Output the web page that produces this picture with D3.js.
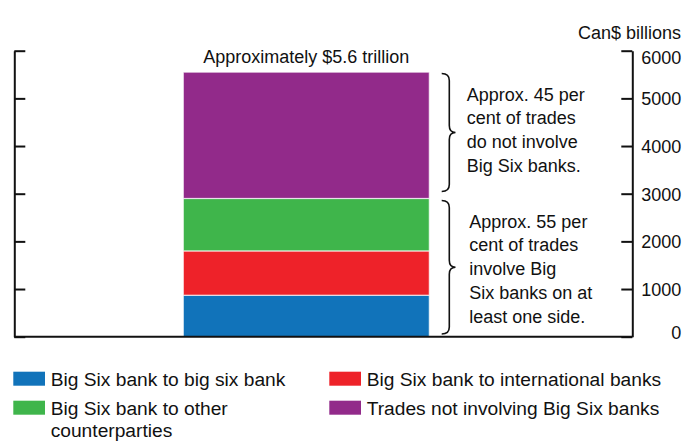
<!DOCTYPE html>
<html>
<head>
<meta charset="utf-8">
<script src="https://cdn.jsdelivr.net/npm/d3@7"></script>
<style>
  body { margin: 0; background: #fff; }
  svg text { font-family: "Liberation Sans", Arial, sans-serif; fill: #111; }
</style>
</head>
<body>
<div id="chart"></div>
<script>
// Stacked single bar: foreign exchange trades, Can$ billions
const category = "Total";
const seriesNames = [
    "Big Six bank to big six bank",
    "Big Six bank to international banks",
    "Big Six bank to other counterparties",
    "Trades not involving Big Six banks"
];
const seriesValues = [870, 930, 1100, 2650];
const seriesColors = ["#1173ba", "#ee2229", "#3fb54b", "#922a8a"];
const yTicks = [0, 1000, 2000, 3000, 4000, 5000, 6000];
const unitLabel = "Can$ billions";
const totalLabel = "Approximately $5.6 trillion";
const upperNote = ["Approx. 45 per", "cent of trades", "do not involve", "Big Six banks."];
const lowerNote = ["Approx. 55 per", "cent of trades", "involve Big", "Six banks on at", "least one side."];

const width = 684, height = 441;
const plot = {left: 14.3, right: 632.3, top: 50.7, bottom: 336.7};

const svg = d3.select("#chart").append("svg")
    .attr("width", width)
    .attr("height", height);

const y = d3.scaleLinear()
    .domain([0, 6000])
    .range([plot.bottom, plot.top]);

const x = d3.scaleBand()
    .domain([category])
    .range([183.3, 429.3])
    .padding(0);

// stack the segments
const stackData = [Object.fromEntries(seriesNames.map((n, i) => [n, seriesValues[i]]))];
const stacked = d3.stack().keys(seriesNames)(stackData);

svg.append("g")
    .selectAll("rect")
    .data(stacked)
    .join("rect")
    .attr("x", x(category))
    .attr("width", x.bandwidth())
    .attr("y", d => y(d[0][1]))
    .attr("height", d => y(d[0][0]) - y(d[0][1]))
    .attr("fill", (d, i) => seriesColors[i])
    .attr("stroke", "#ffffff")
    .attr("stroke-opacity", 0.7)
    .attr("stroke-width", 1.2);

// left axis (ticks only, pointing inward)
const leftAxis = svg.append("g")
    .attr("transform", `translate(${plot.left},0)`)
    .call(d3.axisLeft(y).tickValues(yTicks).tickSizeInner(-11).tickSizeOuter(0).tickFormat(""));
leftAxis.selectAll("line").attr("stroke", "#111").attr("stroke-width", 2);
leftAxis.select(".domain").attr("stroke", "#111").attr("stroke-width", 2);

// right axis with labels
const rightAxis = svg.append("g")
    .attr("transform", `translate(${plot.right},0)`)
    .call(d3.axisRight(y).tickValues(yTicks).tickSizeInner(-11).tickSizeOuter(0).tickFormat(d3.format("d")));
rightAxis.selectAll("line").attr("stroke", "#111").attr("stroke-width", 2);
rightAxis.select(".domain").attr("stroke", "#111").attr("stroke-width", 2);
rightAxis.selectAll("text")
    .attr("x", 49)
    .attr("text-anchor", "end")
    .attr("dy", d => d === 6000 ? "0.7em" : d === 0 ? "0.1em" : "0.36em")
    .style("font-size", "18px")
    .style("font-family", "'Liberation Sans', Arial, sans-serif")
    .attr("fill", "#111");

// baseline
svg.append("line")
    .attr("x1", plot.left)
    .attr("x2", plot.right)
    .attr("y1", y(0))
    .attr("y2", y(0))
    .attr("stroke", "#111")
    .attr("stroke-width", 2);

svg.append("text")
    .attr("x", 681)
    .attr("y", 39)
    .attr("text-anchor", "end")
    .style("font-size", "18px")
    .text(unitLabel);

const total = d3.sum(seriesValues);
svg.append("text")
    .attr("x", x(category) + x.bandwidth() / 2)
    .attr("y", y(total) - 9.5)
    .attr("text-anchor", "middle")
    .style("font-size", "18px")
    .text(totalLabel);

// curly braces
function brace(top, bottom) {
    const x0 = 441.7, xm = 449.3, xt = 455.5, r = 7;
    const mid = (top + bottom) / 2;
    return `M${x0},${top} Q${xm},${top} ${xm},${top + r} L${xm},${mid - r} ` +
        `Q${xm},${mid} ${xt},${mid} Q${xm},${mid} ${xm},${mid + r} ` +
        `L${xm},${bottom - r} Q${xm},${bottom} ${x0},${bottom}`;
}
const big6Total = d3.sum(seriesValues.slice(0, 3));
svg.append("path")
    .attr("d", brace(y(total) + 1.3, y(big6Total) - 7))
    .attr("fill", "none").attr("stroke", "#111").attr("stroke-width", 1.6);
svg.append("path")
    .attr("d", brace(y(big6Total) + 2, y(0) - 2.7))
    .attr("fill", "none").attr("stroke", "#111").attr("stroke-width", 1.6);

function note(lines, x0, y0) {
    svg.append("g").selectAll("text")
        .data(lines)
        .join("text")
        .attr("x", x0)
        .attr("y", (d, i) => y0 + i * 23.8)
        .style("font-size", "18px")
        .text(d => d);
}
note(upperNote, 466.7, 100.6);
note(lowerNote, 469.3, 227.6);

// legend
const legendPos = [
    {x: 13.3, y: 386, lines: ["Big Six bank to big six bank"]},
    {x: 329.3, y: 386, lines: ["Big Six bank to international banks"]},
    {x: 13.3, y: 415, lines: ["Big Six bank to other", "counterparties"]},
    {x: 329.3, y: 415, lines: ["Trades not involving Big Six banks"]}
];
const legendOrder = [0, 1, 2, 3];
const legend = svg.append("g");
legendOrder.forEach((si, i) => {
    const p = legendPos[i];
    legend.append("rect")
        .attr("x", p.x)
        .attr("y", p.y - 14.3)
        .attr("width", 31.7)
        .attr("height", 14)
        .attr("fill", seriesColors[si]);
    const t = legend.append("text")
        .attr("x", p.x + 37.4)
        .attr("y", p.y)
        .style("font-size", "19.2px");
    const parts = si === 2 ? ["Big Six bank to other", "counterparties"] : [seriesNames[si]];
    parts.forEach((s, j) => {
        t.append("tspan")
            .attr("x", p.x + 37.4)
            .attr("y", p.y + j * 21.8)
            .text(s);
    });
});
</script>
</body>
</html>
